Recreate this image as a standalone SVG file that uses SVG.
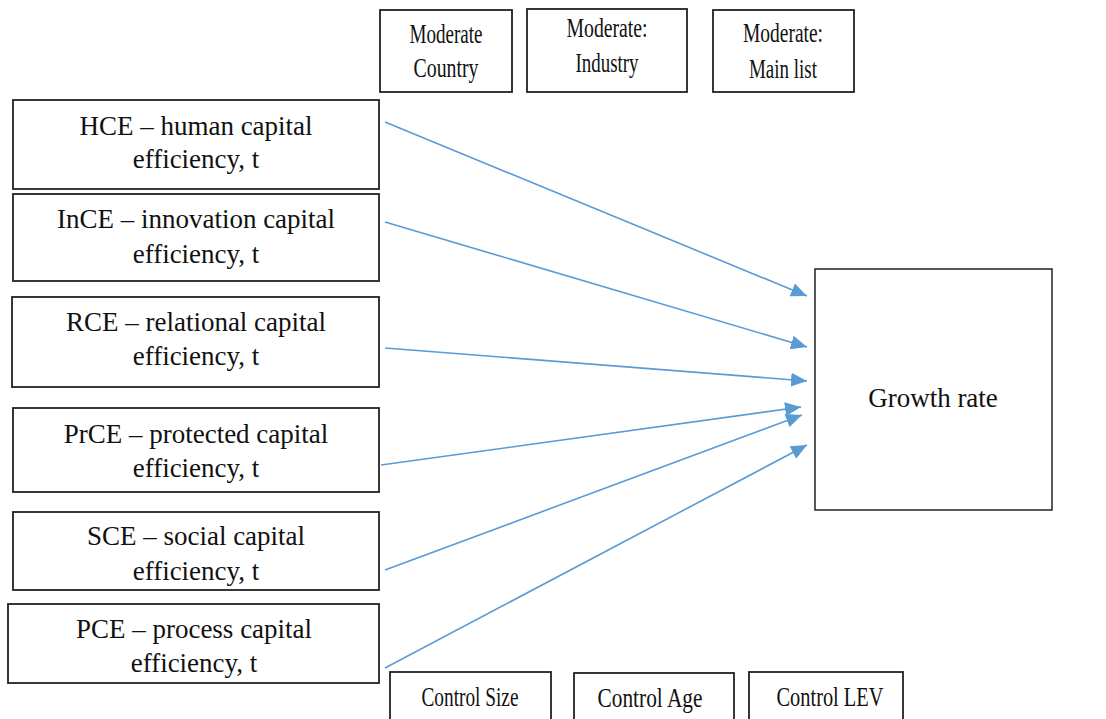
<svg xmlns="http://www.w3.org/2000/svg" width="1106" height="719" viewBox="0 0 1106 719">
<style>
.box{fill:#fff;stroke:#222;stroke-width:1.8}
.t{font-family:"Liberation Serif","Times New Roman",serif;font-size:27px;fill:#111;text-anchor:middle}
.c{stroke:#5b9bd5;stroke-width:1.6;fill:none;marker-end:url(#ah)}
</style>
<defs>
<marker id="ah" markerUnits="userSpaceOnUse" markerWidth="18" markerHeight="14" refX="16" refY="7" orient="auto">
<path d="M0,0 L16,7 L0,14 Z" fill="#5b9bd5"/>
</marker>
</defs>
<rect width="1106" height="719" fill="#fff"/>
<g id="mod-country"><rect class="box" x="380" y="10" width="132" height="82"/><text class="t" x="446" y="43" textLength="73" lengthAdjust="spacingAndGlyphs">Moderate</text><text class="t" x="446" y="77" textLength="65" lengthAdjust="spacingAndGlyphs">Country</text></g>
<g id="mod-industry"><rect class="box" x="527" y="9" width="160" height="83"/><text class="t" x="607" y="37" textLength="81" lengthAdjust="spacingAndGlyphs">Moderate:</text><text class="t" x="607" y="72" textLength="63" lengthAdjust="spacingAndGlyphs">Industry</text></g>
<g id="mod-mainlist"><rect class="box" x="713" y="10" width="141" height="82"/><text class="t" x="783" y="42" textLength="80" lengthAdjust="spacingAndGlyphs">Moderate:</text><text class="t" x="783" y="78" textLength="68" lengthAdjust="spacingAndGlyphs">Main list</text></g>
<g id="hce"><rect class="box" x="13" y="100" width="366" height="89"/><text class="t" x="196" y="135">HCE – human capital</text><text class="t" x="196" y="168">efficiency, t</text></g>
<g id="ince"><rect class="box" x="13" y="194" width="366" height="87"/><text class="t" x="196" y="228">InCE – innovation capital</text><text class="t" x="196" y="263">efficiency, t</text></g>
<g id="rce"><rect class="box" x="12" y="297" width="367" height="90"/><text class="t" x="196" y="331">RCE – relational capital</text><text class="t" x="196" y="365">efficiency, t</text></g>
<g id="prce"><rect class="box" x="13" y="408" width="366" height="84"/><text class="t" x="196" y="443">PrCE – protected capital</text><text class="t" x="196" y="477">efficiency, t</text></g>
<g id="sce"><rect class="box" x="13" y="512" width="366" height="78"/><text class="t" x="196" y="545">SCE – social capital</text><text class="t" x="196" y="580">efficiency, t</text></g>
<g id="pce"><rect class="box" x="8" y="604" width="371" height="79"/><text class="t" x="194" y="638">PCE – process capital</text><text class="t" x="194" y="672">efficiency, t</text></g>
<g id="growth"><rect class="box" x="815" y="269" width="237" height="241" style="stroke-width:1.5"/><text class="t" x="933" y="407">Growth rate</text></g>
<g id="ctrl-size"><rect class="box" x="390" y="672" width="161" height="60"/><text class="t" x="470" y="706" textLength="97" lengthAdjust="spacingAndGlyphs">Control Size</text></g>
<g id="ctrl-age"><rect class="box" x="574" y="673" width="160" height="60"/><text class="t" x="650" y="707" textLength="105" lengthAdjust="spacingAndGlyphs">Control Age</text></g>
<g id="ctrl-lev"><rect class="box" x="749" y="672" width="154" height="60"/><text class="t" x="830" y="706" textLength="107" lengthAdjust="spacingAndGlyphs">Control LEV</text></g>
<g id="connectors">
<line class="c" x1="385" y1="122" x2="807" y2="296"/>
<line class="c" x1="385" y1="222" x2="807" y2="347"/>
<line class="c" x1="385" y1="348" x2="807" y2="381"/>
<line class="c" x1="381" y1="465" x2="801" y2="407"/>
<line class="c" x1="385" y1="570" x2="802" y2="415"/>
<line class="c" x1="385" y1="668" x2="807" y2="445"/>
</g>
</svg>
